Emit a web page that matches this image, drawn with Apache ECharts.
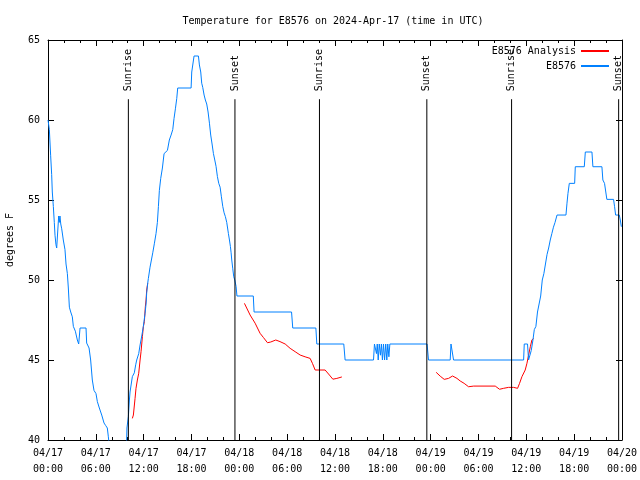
<!DOCTYPE html>
<html><head><meta charset="utf-8">
<script src="https://cdn.jsdelivr.net/npm/echarts/dist/echarts.min.js"></script>
<style>html,body{margin:0;padding:0;background:#fff}#c{width:640px;height:480px}</style>
</head><body><div id="c"></div>
<script>
// ---- data (x = hours since 2024-04-17 00:00 UTC) ----
const titleText = 'Temperature for E8576 on 2024-Apr-17 (time in UTC)';
const xTickLabels = ['04/17\n00:00','04/17\n06:00','04/17\n12:00','04/17\n18:00',
  '04/18\n00:00','04/18\n06:00','04/18\n12:00','04/18\n18:00',
  '04/19\n00:00','04/19\n06:00','04/19\n12:00','04/19\n18:00','04/20\n00:00'];
const yAxisName = 'degrees F';
const sunTimes = [10.08, 23.45, 34.05, 47.52, 58.15, 71.58];
const sunLabels = ['Sunrise','Sunset','Sunrise','Sunset','Sunrise','Sunset'];

const observed = [
[0,60.0],[0.12,60.0],[0.17,59.4],[0.33,57.8],[0.46,56.6],[0.54,55.5],[0.67,54.6],[0.79,53.6],[0.88,52.8],[1.0,52.2],
[1.09,52.0],[1.28,52.0],[1.34,54.0],[1.42,53.6],[1.5,54.0],[1.6,53.5],[1.72,53.2],[1.92,52.5],[2.13,51.9],[2.26,51.0],
[2.43,50.4],[2.55,49.5],[2.68,48.3],[2.85,48.0],[3.05,47.7],[3.18,47.1],[3.43,46.8],[3.68,46.25],[3.85,46.0],[3.95,46.0],
[4.02,47.0],[4.77,47.0],[4.85,46.06],[5.15,45.75],[5.35,45.0],[5.56,43.75],[5.77,43.1],[6.02,42.9],[6.19,42.4],[6.44,42.0],
[6.74,41.56],[7.03,41.06],[7.24,40.9],[7.44,40.75],[7.57,40.2],[7.7,39.6],[8.5,39.3],[9.3,39.4],[9.85,39.6],[9.9,40.75],
[10.0,40.75],[10.08,41.46],[10.21,42.5],[10.29,43.0],[10.58,43.96],[10.83,44.2],[11.0,44.7],[11.13,45.0],[11.38,45.4],[11.55,45.94],
[11.76,46.5],[11.96,47.1],[12.17,47.9],[12.3,48.5],[12.38,49.2],[12.51,49.8],[12.59,50.1],[12.8,50.8],[12.97,51.25],[13.14,51.7],
[13.35,52.3],[13.55,52.9],[13.72,53.6],[13.85,54.6],[13.97,55.6],[14.14,56.35],[14.35,57.0],[14.56,57.9],[14.98,58.1],[15.22,58.75],
[15.44,59.06],[15.65,59.4],[15.81,60.1],[15.98,60.7],[16.15,61.35],[16.27,62.0],[17.95,62.0],[18.03,63.0],[18.16,63.0],[18.32,64.0],
[18.87,64.0],[18.99,63.44],[19.16,63.0],[19.28,62.3],[19.41,62.04],[19.58,61.56],[19.74,61.25],[19.91,61.0],[20.08,60.5],[20.25,59.8],
[20.41,59.06],[20.58,58.5],[20.75,57.9],[20.92,57.5],[21.08,57.1],[21.25,56.46],[21.42,56.04],[21.59,55.8],[21.75,55.2],[21.92,54.6],
[22.09,54.2],[22.25,53.96],[22.42,53.6],[22.63,52.9],[22.76,52.5],[22.88,52.1],[22.97,51.7],[23.05,51.25],[23.18,50.7],[23.3,50.2],
[23.43,50.0],[23.59,49.6],[23.7,49.0],[25.75,49.0],[25.85,48.0],[30.55,48.0],[30.7,47.0],[33.6,47.0],[33.72,46.0],[37.1,46.0],
[37.27,45.0],[40.83,45.0],[40.95,46.0],[41.1,46.0],[41.2,45.4],[41.3,46.0],[41.42,45.0],[41.55,46.0],[41.7,45.3],
[41.82,46.0],[41.95,45.0],[42.08,46.0],[42.22,45.0],[42.36,46.0],[42.5,45.0],[42.62,46.0],[42.76,45.2],
[42.88,46.0],[47.55,46.0],[47.73,45.0],[50.45,45.0],[50.55,46.0],[50.79,46.0],[50.87,45.0],[59.66,45.0],[59.74,46.0],[60.15,46.0],
[60.28,45.0],[60.4,45.0],[60.62,45.6],[60.83,46.25],[61.0,46.9],[61.2,47.1],[61.4,48.0],[61.6,48.5],[61.8,49.0],[62.0,50.0],
[62.2,50.4],[62.4,51.0],[62.6,51.6],[62.8,52.0],[63.0,52.5],[63.2,52.9],[63.4,53.3],[63.6,53.6],[63.85,54.06],[64.97,54.06],
[65.1,54.8],[65.22,55.4],[65.39,56.04],[66.06,56.04],[66.14,57.08],[67.27,57.08],[67.4,58.0],[68.23,58.0],[68.35,57.08],[69.48,57.08],
[69.6,56.25],[69.81,56.04],[70.1,55.04],[70.94,55.04],[71.07,54.58],[71.2,54.06],[71.66,54.06],[71.79,53.75],[71.92,53.33]
];

const analysisSeg1 = [
[10.58,41.35],[10.71,41.56],[10.92,42.6],[11.04,43.23],[11.21,43.75],[11.38,44.17],[11.55,45.0],[11.67,45.52],
[11.84,46.46],[11.96,47.08],[12.09,47.4],[12.21,48.33],[12.3,48.75],[12.38,49.375],[12.51,49.8]
];
const analysisSeg2 = [
[24.64,48.54],[25.35,47.81],[25.98,47.3],[26.6,46.67],[27.03,46.4],[27.53,46.08],[27.94,46.125],[28.57,46.25],
[29.1,46.15],[29.75,46.0],[30.37,45.73],[31.0,45.52],[31.63,45.31],[32.25,45.2],[32.88,45.1],[33.17,44.79],
[33.51,44.375],[34.76,44.375],[35.3,44.06],[35.73,43.8],[36.23,43.85],[36.86,43.94]
];
const analysisSeg3 = [
[48.69,44.23],[49.2,43.99],[49.7,43.79],[50.24,43.85],[50.75,44.0],[51.3,43.85],[51.7,43.69],[52.2,43.54],
[52.75,43.33],[53.4,43.37],[56.1,43.37],[56.64,43.17],[57.15,43.23],[57.77,43.29],[58.4,43.29],[58.9,43.23],
[59.15,43.54],[59.45,43.96],[59.86,44.375],[60.08,44.8],[60.28,45.3],[60.5,45.83],[60.7,46.25],[60.9,46.35]
];

const sunLineTop = 61.3;
const sunLabelBase = 61.8;

// ---- chart ----
const FONT = '"DejaVu Sans Mono", monospace';
const chart = echarts.init(document.getElementById('c'), null, {renderer: 'canvas'});
const axisCommonX = {
  type: 'value', min: 0, max: 72, interval: 6,
  axisLine: {show: true, onZero: false, lineStyle: {color: '#000', width: 1}},
  axisTick: {show: true, inside: true, length: 6, lineStyle: {color: '#000'}},
  minorTick: {show: true, splitNumber: 3, length: 3, lineStyle: {color: '#000'}},
  splitLine: {show: false}
};
const axisCommonY = {
  type: 'value', min: 40, max: 65, interval: 5,
  axisLine: {show: true, onZero: false, lineStyle: {color: '#000', width: 1}},
  axisTick: {show: true, inside: true, length: 6, lineStyle: {color: '#000'}},
  splitLine: {show: false}
};
const redLine = (data, name) => ({
  name: name, type: 'line', data: data, symbol: 'none', showSymbol: false,
  color: '#ff0000', lineStyle: {width: 1, color: '#ff0000'}, z: 2, animation: false
});
chart.setOption({
  animation: false,
  backgroundColor: '#fff',
  title: {
    text: titleText, left: 333, top: 16, textAlign: 'center', padding: 0,
    textStyle: {fontFamily: FONT, fontSize: 10, fontWeight: 'normal', color: '#000'}
  },
  legend: {
    data: ['E8576 Analysis', 'E8576'],
    orient: 'vertical', align: 'right', right: 31, top: 46, padding: 0,
    icon: 'rect', itemWidth: 28, itemHeight: 2, itemGap: 5,
    textStyle: {fontFamily: FONT, fontSize: 10, color: '#000'}
  },
  grid: {left: 48, right: 18, top: 40, bottom: 40, containLabel: false, outerBoundsMode: 'none'},
  xAxis: [
    Object.assign({}, axisCommonX, {
      position: 'bottom',
      axisLabel: {formatter: v => xTickLabels[Math.round(v / 6)], color: '#000',
        fontFamily: FONT, fontSize: 10, margin: 5, lineHeight: 16}
    }),
    Object.assign({}, axisCommonX, {position: 'top', axisLabel: {show: false}})
  ],
  yAxis: [
    Object.assign({}, axisCommonY, {
      position: 'left',
      name: yAxisName, nameLocation: 'middle', nameGap: 33, nameRotate: 90,
      nameTextStyle: {fontFamily: FONT, fontSize: 10, color: '#000'},
      axisLabel: {color: '#000', fontFamily: FONT, fontSize: 10, margin: 8}
    }),
    Object.assign({}, axisCommonY, {position: 'right', axisLabel: {show: false}})
  ],
  series: [
    redLine(analysisSeg1, 'E8576 Analysis'),
    redLine(analysisSeg2, 'E8576 Analysis'),
    redLine(analysisSeg3, 'E8576 Analysis'),
    {
      name: 'E8576', type: 'line', data: observed, symbol: 'none', showSymbol: false,
      color: '#0080ff', lineStyle: {width: 1, color: '#0080ff'}, z: 3
    },
    {
      name: 'sun', type: 'custom', clip: false, z: 4,
      data: sunTimes.map(t => [t, 40]),
      encode: {x: 0, y: 1},
      renderItem: function (params, api) {
        const t = api.value(0);
        const p0 = api.coord([t, 40]);
        const p1 = api.coord([t, sunLineTop]);
        const pl = api.coord([t, sunLabelBase]);
        return {
          type: 'group',
          children: [
            {type: 'line', shape: {x1: p0[0], y1: p0[1], x2: p1[0], y2: p1[1]},
             style: {stroke: '#000', lineWidth: 1}},
            {type: 'text', x: pl[0], y: pl[1], rotation: Math.PI / 2,
             style: {text: sunLabels[params.dataIndex], font: '10px ' + FONT,
                     fill: '#000', align: 'left', verticalAlign: 'middle'}}
          ]
        };
      }
    }
  ]
});
</script>
</body></html>
